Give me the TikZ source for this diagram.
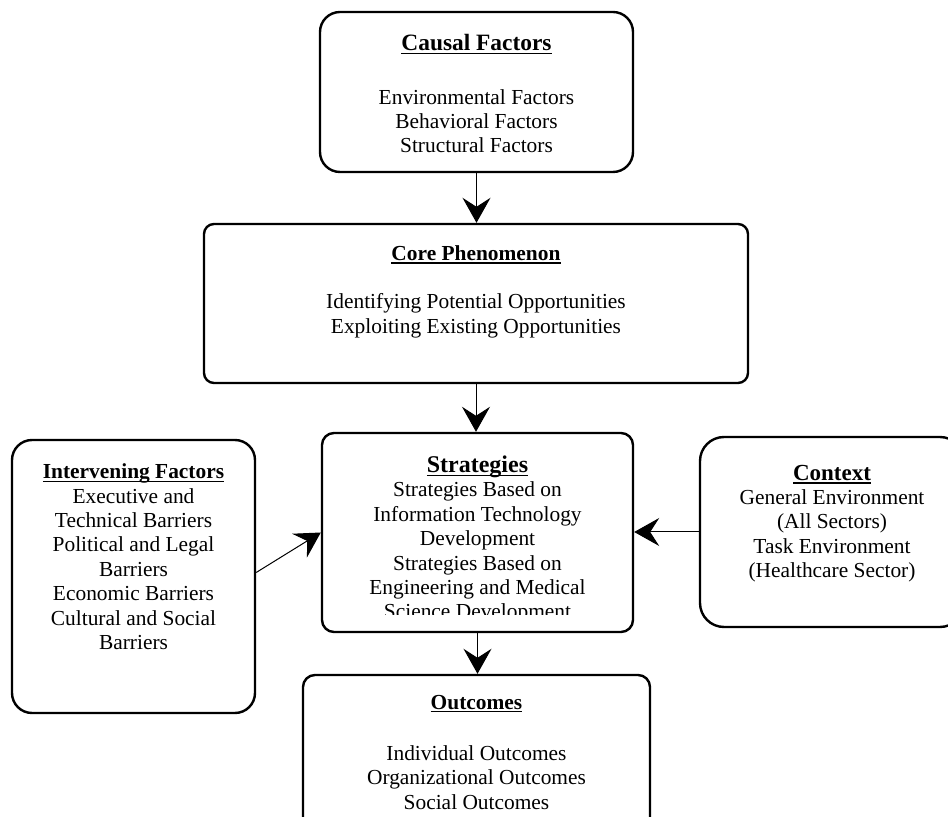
\documentclass[tikz,border=0pt]{standalone}
\usepackage{fontspec}
\setmainfont{Liberation Serif}
\usetikzlibrary{arrows.meta,calc}

\tikzset{
  box/.style={draw, line width=1.2pt, rounded corners=#1, inner sep=0pt},
  box/.default=6pt,
  boxtext/.style={align=center, inner sep=0pt, anchor=north, font=\fontsize{10.7}{12.2}\selectfont},
  link/.style={-{Stealth[length=12.5pt,width=14pt,inset=4.5pt]}, line width=0.5pt},
}
\newcommand{\boxhead}[2]{{\fontsize{#1}{12}\selectfont\bfseries\setbox0\hbox{#2}%
  \rlap{\rule[-1.7pt]{\wd0}{0.65pt}}\box0}}

\begin{document}
\begin{tikzpicture}[x=0.5pt, y=-0.5pt, line join=round]
  \clip (0,0) rectangle (948,817);
  % boxes
  \node[box=10pt, minimum width=156.5pt, minimum height=80pt] (causal) at (476.5,92) {};
  \node[box=5pt, minimum width=272pt, minimum height=79.5pt] (core) at (476,303.5) {};
  \node[box=6pt, minimum width=155.5pt, minimum height=99.5pt] (strat) at (477.5,532.5) {};
  \node[box=10pt, minimum width=121.5pt, minimum height=136.5pt] (interv) at (133.5,576.5) {};
  \node[box=12pt, minimum width=132pt, minimum height=95pt] (context) at (832,532) {};
  \node[box=6pt, minimum width=173.5pt, minimum height=85pt] (outcome) at (476.5,760) {};

  % texts
  \node[boxtext] (causaltxt) at (476.5,34) {\boxhead{11.7}{Causal Factors}\\[14.5pt]
    Environmental Factors\\ Behavioral Factors\\ Structural Factors};
  \node[boxtext] (coretxt) at (476,245) {\boxhead{10.7}{Core Phenomenon}\\[12pt]
    Identifying Potential Opportunities\\ Exploiting Existing Opportunities};
  \begin{scope}
    \clip (322,433) rectangle (633,615);
    \node[boxtext] (strattxt) at (477.5,455.5) {\boxhead{12}{Strategies}\\
      Strategies Based on\\ Information Technology\\ Development\\
      Strategies Based on\\ Engineering and Medical\\ Science Development};
  \end{scope}
  \node[boxtext] (intervtxt) at (133.5,463.5) {\boxhead{10.7}{Intervening Factors}\\
    Executive and\\ Technical Barriers\\ Political and Legal\\ Barriers\\
    Economic Barriers\\ Cultural and Social\\ Barriers};
  \node[boxtext] (contexttxt) at (832,464.5) {\boxhead{11.5}{Context}\\
    General Environment\\ (All Sectors)\\ Task Environment\\ (Healthcare Sector)};
  \node[boxtext] (outcometxt) at (476.5,694.5) {\boxhead{10.7}{Outcomes}\\[13.5pt]
    Individual Outcomes\\ Organizational Outcomes\\ Social Outcomes};

  % arrows
  \draw[link] (causal.south) -- (causal.south |- core.north);
  \draw[link] (core.south) -- (core.south |- strat.north);
  \draw[link] (strat.south) -- (strat.south |- outcome.north);
  \draw[link] (context.west) -- (context.west -| strat.east);
  \draw[link] ($(interv.east)+(0,-4)$) -- (strat.west);
\end{tikzpicture}
\end{document}
